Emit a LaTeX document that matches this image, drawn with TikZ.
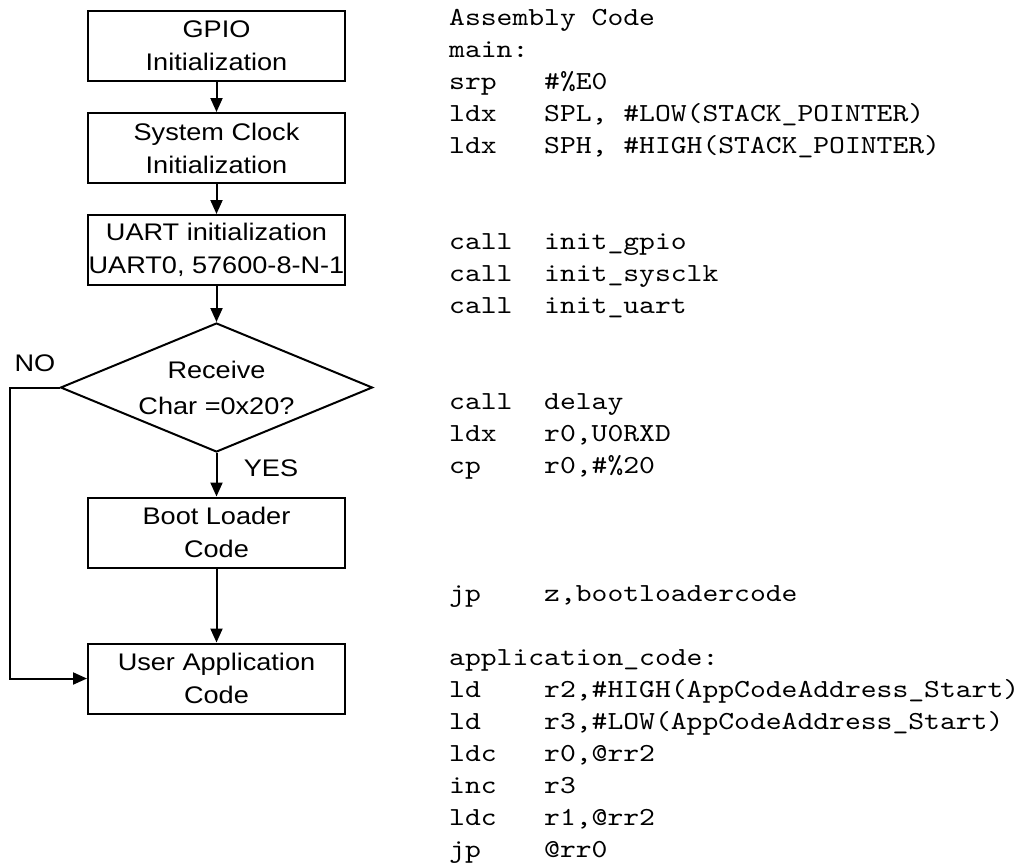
\documentclass[tikz,border=0pt]{standalone}
\usepackage{fontspec}
\setmainfont{Liberation Sans}
\newfontfamily\flowfont[FakeStretch=1.13]{Liberation Sans}
\newfontfamily\codefont{lmmono10-regular}[Extension=.otf,FakeStretch=1.16]
\usetikzlibrary{arrows.meta,shapes.geometric}

\begin{document}
\begin{tikzpicture}[x=1pt,y=-1pt,
  stepbox/.style={draw,line width=2pt,minimum width=257pt,minimum height=70pt,
    inner sep=0pt,align=center,font=\flowfont\fontsize{24}{33}\selectfont},
  decision/.style={draw,diamond,aspect=2.4,line width=2pt,minimum width=312pt,
    minimum height=129pt,inner sep=0pt,align=center,font=\flowfont\fontsize{24}{36}\selectfont},
  flow/.style={line width=2pt,-{Triangle[width=12pt,length=14pt]}},
  lbl/.style={inner sep=0pt,font=\flowfont\fontsize{24}{28}\selectfont},
  asm/.style={anchor=base west,inner sep=0pt,font=\codefont\fontsize{26}{32}\selectfont}
]
\useasboundingbox (0,0) rectangle (1024,863);
\fill[white] (0,0) rectangle (1024,863);

% flowchart
\node[stepbox] (gpio) at (216.5,46) {GPIO\\Initialization};
\node[stepbox] (clk)  at (216.5,148) {System Clock\\Initialization};
\node[stepbox] (uart) at (216.5,250) {UART initialization\\UART0, 57600-8-N-1};
\node[decision] (rx)  at (216.5,387.5) {Receive\\Char =0x20?};
\node[stepbox] (boot) at (216.5,532.5) {Boot Loader\\Code};
\node[stepbox] (app)  at (216.5,678.5) {User Application\\Code};

\draw[flow] (gpio) -- (clk);
\draw[flow] (clk) -- (uart);
\draw[flow] (uart) -- (rx);
\draw[flow] (rx) -- (boot);
\draw[flow] (boot) -- (app);
\coordinate (nobend) at (10,387.5);
\draw[flow] (rx.west) -- (nobend) |- (app.west);

\node[lbl] (no)  at (35,363) {NO};
\node[lbl] (yes) at (271,468) {YES};

% assembly listing: mnemonic column and operand column
\node[asm] (t0) at (449,25) {Assembly Code};
\node[asm] (t1) at (449,57) {main:};
\node[asm] (m2) at (449,89) {srp};   \node[asm] (o2) at (544,89) {\#\%E0};
\node[asm] (m3) at (449,121) {ldx};  \node[asm] (o3) at (544,121) {SPL, \#LOW(STACK\_POINTER)};
\node[asm] (m4) at (449,153) {ldx};  \node[asm] (o4) at (544,153) {SPH, \#HIGH(STACK\_POINTER)};
\node[asm] (m7) at (449,249) {call}; \node[asm] (o7) at (544,249) {init\_gpio};
\node[asm] (m8) at (449,281) {call}; \node[asm] (o8) at (544,281) {init\_sysclk};
\node[asm] (m9) at (449,313) {call}; \node[asm] (o9) at (544,313) {init\_uart};
\node[asm] (m12) at (449,409) {call}; \node[asm] (o12) at (544,409) {delay};
\node[asm] (m13) at (449,441) {ldx};  \node[asm] (o13) at (544,441) {r0,U0RXD};
\node[asm] (m14) at (449,473) {cp};   \node[asm] (o14) at (544,473) {r0,\#\%20};
\node[asm] (m18) at (449,601) {jp};   \node[asm] (o18) at (544,601) {z,bootloadercode};
\node[asm] (t20) at (449,665) {application\_code:};
\node[asm] (m21) at (449,697) {ld};   \node[asm] (o21) at (544,697) {r2,\#HIGH(AppCodeAddress\_Start)};
\node[asm] (m22) at (449,729) {ld};   \node[asm] (o22) at (544,729) {r3,\#LOW(AppCodeAddress\_Start)};
\node[asm] (m23) at (449,761) {ldc};  \node[asm] (o23) at (544,761) {r0,@rr2};
\node[asm] (m24) at (449,793) {inc};  \node[asm] (o24) at (544,793) {r3};
\node[asm] (m25) at (449,825) {ldc};  \node[asm] (o25) at (544,825) {r1,@rr2};
\node[asm] (m26) at (449,857) {jp};   \node[asm] (o26) at (544,857) {@rr0};
\end{tikzpicture}
\end{document}
